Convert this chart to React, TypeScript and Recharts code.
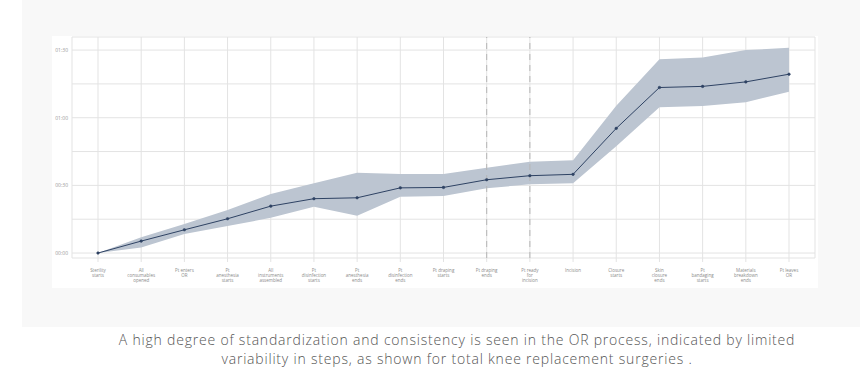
import { ComposedChart, Line, Area, XAxis, YAxis, CartesianGrid, ReferenceLine } from 'recharts';

// process steps (x categories), "\n" marks the line breaks of the tick label
const steps = [
  'Sterility\nstarts',
  'All\nconsumables\nopened',
  'Pt enters\nOR',
  'Pt\nanesthesia\nstarts',
  'All\ninstruments\nassembled',
  'Pt\ndisinfection\nstarts',
  'Pt\nanesthesia\nends',
  'Pt\ndisinfection\nends',
  'Pt draping\nstarts',
  'Pt draping\nends',
  'Pt ready\nfor\nincision',
  'Incision',
  'Closure\nstarts',
  'Skin\nclosure\nends',
  'Pt\nbandaging\nstarts',
  'Materials\nbreakdown\nends',
  'Pt leaves\nOR',
];

// minutes from sterility start
const meanMinutes = [0, 5.3, 10.3, 15.2, 20.8, 24.1, 24.5, 28.9, 29.1, 32.5, 34.3, 34.9, 55.3, 73.4, 73.9, 75.9, 79.3];
const lowMinutes = [0, 2.5, 8.4, 12.0, 15.6, 20.5, 16.5, 25.0, 25.3, 28.7, 30.5, 30.9, 47.4, 64.6, 65.2, 66.9, 71.5];
const highMinutes = [0, 7.0, 12.9, 19.1, 26.2, 30.9, 35.6, 35.0, 35.0, 37.8, 40.5, 41.2, 65.3, 85.9, 86.7, 90.0, 91.0];

const yTicks = [0, 15, 30, 45, 60, 75, 90];
const yLabels: Record<number, string> = { 0: '00:00', 30: '00:30', 60: '01:00', 90: '01:30' };
const dashedSteps = [9, 10];

const captionLines = [
  'A high degree of standardization and consistency is seen in the OR process, indicated by limited',
  'variability in steps, as shown for total knee replacement surgeries .',
];

const data = steps.map((s, i) => ({
  step: s,
  mean: meanMinutes[i],
  range: [lowMinutes[i], highMinutes[i]],
}));

const StepTick = (props: any) => {
  const { x, y, payload } = props;
  const lines = String(payload.value).split('\n');
  return (
    <text x={x} y={y + 8} textAnchor="middle" fontSize={4.5} fill="#8a8a8a" fontFamily="Open Sans, sans-serif">
      {lines.map((l, i) => (
        <tspan key={i} x={x} dy={i === 0 ? 0 : 5}>{l}</tspan>
      ))}
    </text>
  );
};

export default function App() {
  return (
    <div style={{ position: 'absolute', left: 0, top: 0, width: 860, height: 376, background: '#fff', fontFamily: 'Open Sans, sans-serif' }}>
      <div style={{ position: 'absolute', left: 22, top: 0, width: 838, height: 327, background: '#f8f8f8' }} />
      <div style={{ position: 'absolute', left: 52, top: 36, width: 766, height: 252, background: '#fff' }}>
        <ComposedChart width={766} height={252} data={data} margin={{ top: 1, right: 3, bottom: 0, left: 0 }}>
          <CartesianGrid stroke="#e3e3e3" strokeWidth={1} />
          <XAxis
            dataKey="step"
            interval={0}
            padding={{ left: 26, right: 26 }}
            axisLine={false}
            tickLine={{ stroke: '#e3e3e3' }}
            tickSize={4}
            height={30}
            tick={<StepTick />}
          />
          <YAxis
            type="number"
            domain={[-2.2, 95.8]}
            ticks={yTicks}
            allowDataOverflow
            width={20}
            axisLine={false}
            tickLine={false}
            tickSize={0}
            tickMargin={4}
            tick={{ fontSize: 5, fill: '#999' }}
            tickFormatter={(v) => yLabels[v] ?? ''}
          />
          {dashedSteps.map((i) => (
            <ReferenceLine key={i} x={steps[i]} stroke="#b5b5b5" strokeDasharray="6 5" />
          ))}
          <Area
            dataKey="range"
            type="linear"
            stroke="none"
            fill="#bcc5d1"
            fillOpacity={1}
            isAnimationActive={false}
          />
          <Line
            dataKey="mean"
            type="linear"
            stroke="#2e4263"
            strokeWidth={1}
            dot={{ r: 1.3, fill: '#2e4263', stroke: '#2e4263', strokeWidth: 0.5 }}
            isAnimationActive={false}
          />
        </ComposedChart>
      </div>
      {captionLines.map((line, i) => (
        <div
          key={i}
          style={{ position: 'absolute', left: 77, top: 330 + i * 19, width: 760, height: 19, textAlign: 'center', fontSize: 14, lineHeight: '19px', letterSpacing: 0.8, color: '#555', fontWeight: 300, whiteSpace: 'nowrap' }}
        >
          {line}
        </div>
      ))}
    </div>
  );
}
